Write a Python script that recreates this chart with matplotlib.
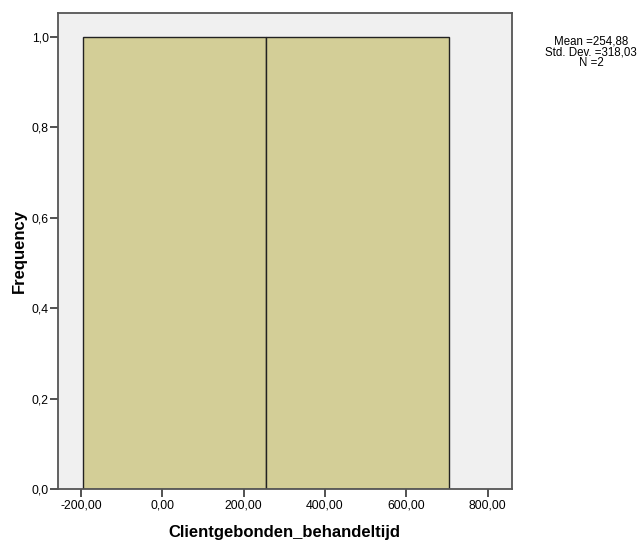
import matplotlib
matplotlib.use("Agg")
import matplotlib.pyplot as plt
import numpy as np

plt.rcParams['font.family'] = ['Liberation Sans', 'DejaVu Sans']

# Data
values = [30.00, 479.76]
bin_edges = [-194.88, 254.88, 704.64]
x_ticks = [-200, 0, 200, 400, 600, 800]
x_tick_labels = ["-200,00", "0,00", "200,00", "400,00", "600,00", "800,00"]
y_ticks = [0.0, 0.2, 0.4, 0.6, 0.8, 1.0]
y_tick_labels = ["0,0", "0,2", "0,4", "0,6", "0,8", "1,0"]
stats_text = "Mean =254,88\nStd. Dev. =318,03\nN =2"
x_label = "Clientgebonden_behandeltijd"
y_label = "Frequency"

W, H = 644, 543
fig = plt.figure(figsize=(W / 100, H / 100), dpi=100)
fig.patch.set_facecolor("white")

left, right, top, bottom = 58, 512, 12.7, 489
ax = fig.add_axes([left / W, 1 - bottom / H, (right - left) / W, (bottom - top) / H])
ax.set_facecolor("#F0F0F0")

ax.hist(values, bins=bin_edges, color="#D3CE97", edgecolor="#222222", linewidth=1.0, zorder=2)

ax.set_xlim(-256.4, 859.7)
ax.set_ylim(0, 1.053)

ax.set_xticks(x_ticks)
ax.set_xticklabels(x_tick_labels, fontsize=8.8)
ax.set_yticks(y_ticks)
ax.set_yticklabels(y_tick_labels, fontsize=8.8)
ax.tick_params(axis="both", direction="out", length=5.5, width=1.2, color="#333333", labelcolor="#000000")
ax.tick_params(axis="y", pad=1)
ax.tick_params(axis="x", pad=2)

for s in ax.spines.values():
    s.set_color("#555555")
    s.set_linewidth(1.3)

fig.text(284.5 / W, 1 - 532 / H, x_label, ha="center", va="center", fontsize=12, fontweight="bold")
fig.text(19 / W, 1 - 251 / H, y_label, ha="center", va="center", rotation=90, fontsize=12, fontweight="bold")
fig.text(591 / W, 1 - 52.5 / H, stats_text, ha="center", va="center", fontsize=8.3, linespacing=0.85)

fig.savefig("out.png", dpi=100)
